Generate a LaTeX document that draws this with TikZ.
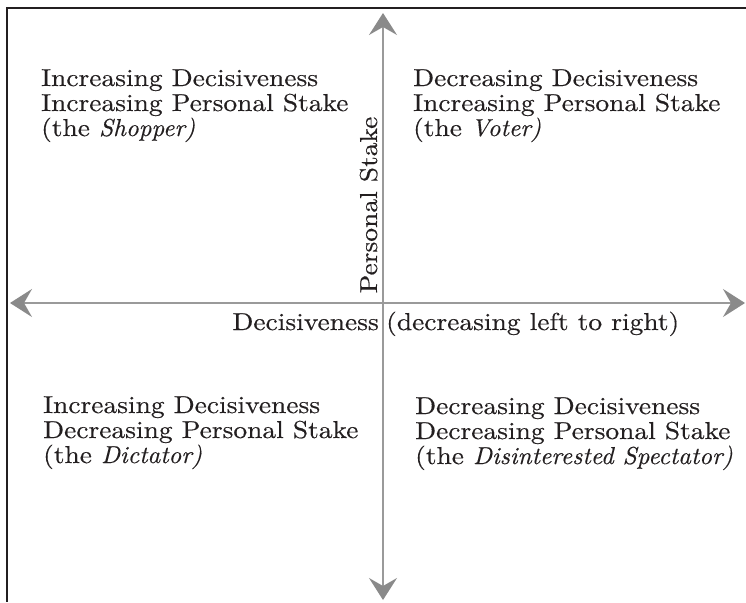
\documentclass[tikz,border=0pt]{standalone}
\usepackage{fontspec}
\setmainfont{lmroman10-regular.otf}[ItalicFont=lmroman10-italic.otf,
  UprightFeatures={FakeStretch=1.12, FakeBold=0.35},
  ItalicFeatures={FakeStretch=1.02, FakeBold=0.35}]
\usetikzlibrary{arrows.meta}
\definecolor{ink}{HTML}{231F20}
\definecolor{axisgrey}{HTML}{9A9A9A}
\definecolor{tipgrey}{HTML}{8A8A8A}
\tikzset{
  frame/.style={draw=ink, line width=2.4pt},
  axisline/.style={draw=axisgrey, line width=1.7pt,
    -{Stealth[length=22pt, width=28pt, inset=8pt, color=tipgrey]}},
  quadtext/.style={text=ink, align=left, anchor=base west, inner sep=0pt,
    font=\fontsize{24.5pt}{25pt}\selectfont},
  axislabel/.style={text=ink, inner sep=0pt, font=\fontsize{24.5pt}{25pt}\selectfont},
}
\begin{document}
\begin{tikzpicture}[x=1pt, y=-1pt]
\useasboundingbox (0,0) rectangle (746,602);
% frame
\coordinate (fTR) at (746,8);
\coordinate (fTL) at (7,8);
\coordinate (fBL) at (7,602);
\draw[frame] (fTR) -- (fTL) -- (fBL);
% axes
\coordinate (c) at (383,303);
\coordinate (top) at (383,13);
\coordinate (bot) at (383,600);
\coordinate (lft) at (10,303);
\coordinate (rgt) at (745,303);
\draw[axisline] (c) -- (top);
\draw[axisline] (c) -- (bot);
\draw[axisline] (c) -- (lft);
\draw[axisline] (c) -- (rgt);
% quadrant texts (anchor = baseline of last line)
\node[quadtext] (tl) at (41,136) {Increasing Decisiveness\\Increasing Personal Stake\\(the \textit{Shopper)}};
\node[quadtext] (tr) at (413,136) {Decreasing Decisiveness\\Increasing Personal Stake\\(the \textit{Voter)}};
\node[quadtext] (bl) at (43,463) {Increasing Decisiveness\\Decreasing Personal Stake\\(the \textit{Dictator)}};
\node[quadtext] (br) at (415,464) {Decreasing Decisiveness\\Decreasing Personal Stake\\(the \textit{Disinterested Spectator)}};
% axis labels
\node[axislabel, anchor=base, rotate=90] (ps) at (377,205) {Personal Stake};
\node[axislabel, anchor=base east] (dl) at (379,330) {Decisiveness};
\node[axislabel, anchor=base west] (dr) at (386,330) {(decreasing left to right)};
\end{tikzpicture}
\end{document}
